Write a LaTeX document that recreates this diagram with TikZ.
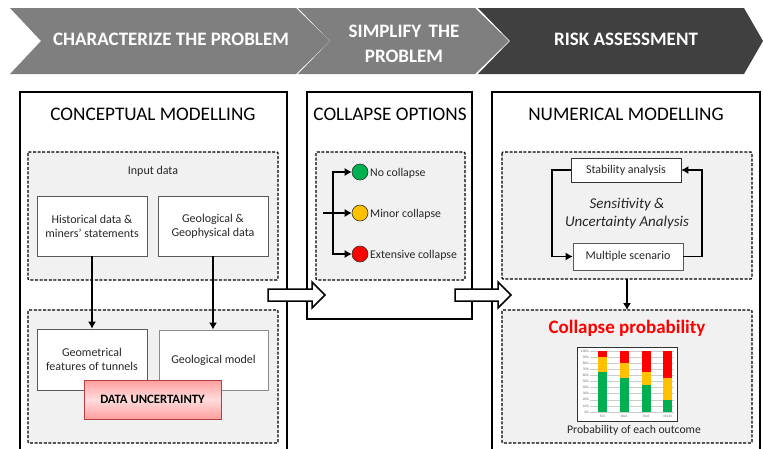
\documentclass[tikz,border=0pt]{standalone}
\usepackage{fontspec}
\setmainfont{Carlito}
\usepackage{tikz}
\usetikzlibrary{arrows.meta}
\definecolor{chevgray}{HTML}{7F7F7F}
\definecolor{chevdark}{HTML}{404040}
\definecolor{panelgray}{HTML}{F1F1F1}
\definecolor{txtgray}{HTML}{262626}
\definecolor{optgreen}{HTML}{00B050}
\definecolor{optamber}{HTML}{FFC000}
\definecolor{optred}{HTML}{FF0000}
\tikzset{
	mainbox/.style={draw=black,line width=1.5pt,fill=white},
	dashbox/.style={draw=black,line width=1.1pt,dash pattern=on 3pt off 1.6pt,fill=panelgray,rounded corners=1pt},
	whitebox/.style={draw=black!65,line width=0.7pt,fill=white,text=txtgray,align=center,font=\fontsize{12}{14}\selectfont},
	chevtext/.style={white,font=\fontsize{19}{25}\selectfont\bfseries,align=center},
	title/.style={black,font=\fontsize{19.2}{24}\selectfont},
	optlabel/.style={text=txtgray,anchor=west,inner sep=0pt,font=\fontsize{11.8}{14}\selectfont},
	optdot/.style={circle,draw=black!80,line width=0.6pt,minimum size=16pt,inner sep=0pt},
	conn/.style={-{Latex[length=7pt,width=8pt]},black,line width=1.1pt},
	bigarrow/.style={draw=black,line width=1.5pt,fill=white}
}
\begin{document}
\begin{tikzpicture}[x=1pt,y=-1pt]
	\useasboundingbox (0,0) rectangle (763,448);
	% process chevrons
	\fill[chevgray] (10,8) -- (296,8) -- (330,41) -- (296,74) -- (10,74) -- (41,41) -- cycle;
	\fill[chevgray] (298,8) -- (475,8) -- (509,41) -- (475,74) -- (298,74) -- (330,41) -- cycle;
	\fill[chevdark] (478,8) -- (744,8) -- (763,41) -- (744,74) -- (478,74) -- (510,41) -- cycle;
	\node[chevtext] (charnode) at (171,39.5) {CHARACTERIZE THE PROBLEM};
	\node[chevtext] (simpnode) at (404,44) {SIMPLIFY\, THE\\PROBLEM};
	\node[chevtext] (risknode) at (626,39.5) {RISK ASSESSMENT};
	% main boxes
	\draw[mainbox] (20,92) rectangle (287,460);
	\draw[mainbox] (307,92) rectangle (472,319);
	\draw[mainbox] (492,92) rectangle (760,460);
	\node[title] (concept) at (153,114) {CONCEPTUAL MODELLING};
	\node[title] (options) at (390,114) {COLLAPSE OPTIONS};
	\node[title] (numeric) at (626,114) {NUMERICAL MODELLING};
	% dashed panels
	\draw[dashbox] (28,152) rectangle (278,280);
	\draw[dashbox] (28,310) rectangle (278,443);
	\draw[dashbox] (316,152) rectangle (465,280);
	\draw[dashbox] (502,152) rectangle (752,279);
	\draw[dashbox] (502,310) rectangle (752,443);
	% conceptual modelling
	\node[text=txtgray,font=\fontsize{12}{14}\selectfont] (input) at (153,171) {Input data};
	\node[whitebox,minimum width=110pt,minimum height=60pt] (hist) at (92,226) {Historical data \&\\miners’ statements};
	\node[whitebox,minimum width=110pt,minimum height=60pt] (geo) at (213,226) {Geological \&\\Geophysical data};
	\node[whitebox,minimum width=110pt,minimum height=61pt] (geom) at (92,359.5) {Geometrical\\features of tunnels};
	\node[whitebox,draw=black!45,line width=1pt,minimum width=109pt,minimum height=60pt] (model) at (213.5,360) {Geological model};
	\node[draw=red!60!black!75,line width=0.7pt,top color=red!38,bottom color=red!38,middle color=red!14,minimum width=137pt,minimum height=39pt,font=\fontsize{12.7}{15}\selectfont\bfseries] (uncert) at (152.5,399.5) {DATA UNCERTAINTY};
	\draw[conn] (hist) -- (geom);
	\draw[conn] (geo.south) -- (geo.south |- model.north);
	% collapse options
	\node[optdot,fill=optgreen] (nocol) at (360,172) {};
	\node[optdot,fill=optamber] (minor) at (360,213) {};
	\node[optdot,fill=optred] (extens) at (360,254) {};
	\node[optlabel] at (370,173) {No collapse};
	\node[optlabel] at (370,214) {Minor collapse};
	\node[optlabel] at (370,255) {Extensive collapse};
	\coordinate (optin) at (323,213);
	\coordinate (trunk) at (333,213);
	\draw[conn] (optin) -- (minor);
	\draw[conn] (trunk) -- (trunk |- nocol) -- (nocol);
	\draw[conn] (trunk) -- (trunk |- extens) -- (extens);
	% numerical modelling
	\node[whitebox,draw=black!80,minimum width=110pt,minimum height=24pt] (stab) at (626,170) {Stability analysis};
	\node[whitebox,draw=black!65,minimum width=110pt,minimum height=27pt] (multi) at (628,256.5) {Multiple scenario};
	\node[text=txtgray,align=center,font=\fontsize{15}{18}\selectfont\itshape] (sens) at (627,213.5) {Sensitivity \&\\Uncertainty Analysis};
	\coordinate (loopl) at (552,214);
	\coordinate (loopr) at (702,214);
	\draw[conn] (stab.west) -- (loopl |- stab.west) -- (loopl |- multi.west) -- (multi.west);
	\draw[conn] (multi.east) -- (loopr |- multi.east) -- (loopr |- stab.east) -- (stab.east);
	\coordinate (numout) at (627,279);
	\coordinate (probin) at (627,310);
	\draw[conn] (numout) -- (probin);
	% block arrows
	\draw[bigarrow] (268,289) -- (312,289) -- (312,282) -- (325,295) -- (312,308) -- (312,301) -- (268,301) -- cycle;
	\draw[bigarrow] (455,289) -- (498,289) -- (498,282) -- (511,295) -- (498,308) -- (498,301) -- (455,301) -- cycle;
	% collapse probability
	\node[text=red,font=\fontsize{19}{22}\selectfont\bfseries] (prob) at (627,328) {Collapse probability};
	\node[draw=black!80,line width=0.9pt,fill=white,minimum width=100pt,minimum height=74pt,inner sep=0pt] (chart) at (627,384) {};
	\foreach \p in {0,10,...,100}{
		\draw[black!20,line width=0.5pt] (590,412-0.61*\p) -- (674,412-0.61*\p);
		\node[black!60,anchor=east,inner sep=0pt,font=\fontsize{3.5}{4}\selectfont] at (589,412-0.61*\p) {\p\%};
	}
	\foreach \xc/\g/\o/\lab in {602.5/65/90/5x5,624/55/80/10x5,646/45/65/15x5,667.5/20/55/15x10}{
		\fill[optgreen] (\xc-4.5,412) rectangle (\xc+4.5,412-0.61*\g);
		\fill[optamber] (\xc-4.5,412-0.61*\g) rectangle (\xc+4.5,412-0.61*\o);
		\fill[optred] (\xc-4.5,412-0.61*\o) rectangle (\xc+4.5,351);
		\node[black!60,inner sep=0pt,font=\fontsize{3.5}{4}\selectfont] at (\xc,416) {\lab};
	}
	\node[text=txtgray,font=\fontsize{11.7}{14}\selectfont] (outcome) at (634,430) {Probability of each outcome};
\end{tikzpicture}
\end{document}
